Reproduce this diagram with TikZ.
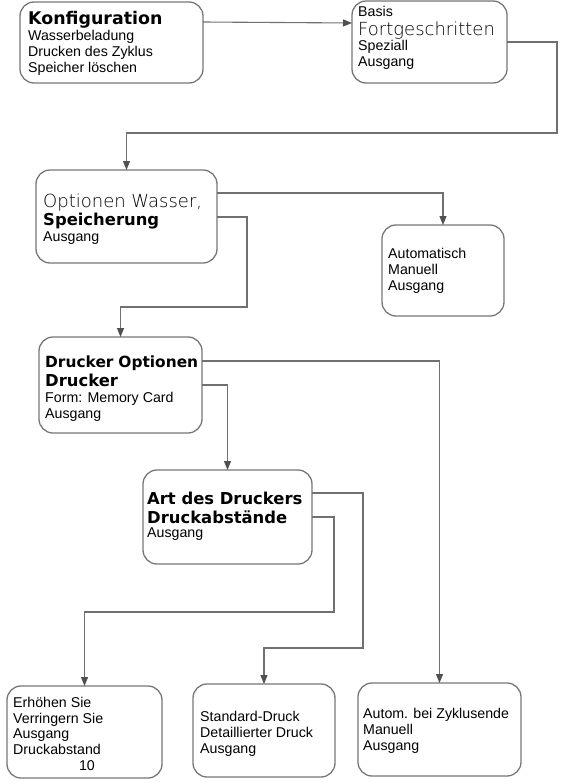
\documentclass[tikz,border=0pt]{standalone}
\usepackage{fontspec}
\setmainfont{Liberation Sans}
\newfontfamily\lightfont{DejaVu Sans ExtraLight}
\newfontfamily\titlefont{DejaVu Sans}
\usetikzlibrary{arrows.meta}
\definecolor{boxgray}{HTML}{777777}
\definecolor{linegray}{HTML}{707070}
\definecolor{tipgray}{HTML}{505050}
\tikzset{
  box/.style={draw=boxgray, line width=1.3pt, rounded corners=14pt, inner sep=0pt, outer sep=0pt},
  conn/.style={draw=linegray, line width=1.1pt},
  arr/.style={conn, -{Triangle[length=9pt,width=7pt,fill=tipgray,color=tipgray]}},
  txt/.style={anchor=base west, inner sep=0pt, font=\fontsize{14.2}{16}\selectfont},
  ttl/.style={anchor=base west, inner sep=0pt, font=\fontsize{16.4}{19}\titlefont\bfseries},
  lt/.style={anchor=base west, inner sep=0pt, font=\fontsize{18}{20}\selectfont\lightfont},
}
\begin{document}
\begin{tikzpicture}[x=1pt,y=-1pt]
\useasboundingbox (0,0) rectangle (574,782);
% boxes
\node[box, minimum width=183pt, minimum height=81pt] (b1) at (111.5,42.5) {};
\node[box, minimum width=155pt, minimum height=82pt] (b2) at (429.5,42) {};
\node[box, minimum width=181pt, minimum height=93pt] (b3) at (126.5,216.5) {};
\node[box, minimum width=122pt, minimum height=91pt] (b4) at (443,270.5) {};
\node[box, minimum width=163pt, minimum height=96pt] (b5) at (120.5,385) {};
\node[box, minimum width=169pt, minimum height=94pt] (b6) at (227.5,517) {};
\node[box, minimum width=155pt, minimum height=92pt] (b7) at (84.5,732) {};
\node[box, minimum width=142pt, minimum height=93pt] (b8) at (264,730.5) {};
\node[box, minimum width=163pt, minimum height=93pt] (b9) at (439.5,729.5) {};
% texts box 1
\node[ttl, font=\fontsize{17.4}{20}\titlefont\bfseries] (t1a) at (28,24) {Konfiguration};
\node[txt] (t1b) at (28,40.5) {Wasserbeladung};
\node[txt] (t1c) at (28,56.5) {Drucken des Zyklus};
\node[txt] (t1d) at (28,72.5) {Speicher löschen};
% box 2
\node[txt] (t2a) at (358,16) {Basis};
\node[lt] (t2b) at (358,35) {Fortgeschritten};
\node[txt] (t2c) at (358,50.5) {Speziall};
\node[txt] (t2d) at (358,66) {Ausgang};
% box 3
\node[lt] (t3a) at (43,207.5) {Optionen Wasser,};
\node[ttl] (t3b) at (43,225.5) {Speicherung};
\node[txt] (t3c) at (43,241) {Ausgang};
% box 4
\node[txt] (t4a) at (388,258) {Automatisch};
\node[txt] (t4b) at (388,274) {Manuell};
\node[txt] (t4c) at (388,290) {Ausgang};
% box 5
\node[ttl, font=\fontsize{15.4}{19}\titlefont\bfseries] (t5a) at (45,367) {\makebox[153pt][s]{Drucker Optionen}};
\node[ttl] (t5b) at (45,386) {Drucker};
\node[txt] (t5c) at (45,402) {Form: Memory Card};
\node[txt] (t5d) at (45,418) {Ausgang};
% box 6
\node[ttl] (t6a) at (147,504) {Art des Druckers};
\node[ttl] (t6b) at (147,523) {Druckabstände};
\node[txt] (t6c) at (147,537) {Ausgang};
% box 7
\node[txt] (t7a) at (13,707) {Erhöhen Sie};
\node[txt] (t7b) at (13,723) {Verringern Sie};
\node[txt] (t7c) at (13,738) {Ausgang};
\node[txt] (t7d) at (13,754) {Druckabstand};
\node[txt, anchor=base] (t7e) at (87,770) {10};
% box 8
\node[txt] (t8a) at (200,721) {Standard-Druck};
\node[txt] (t8b) at (200,737) {Detaillierter Druck};
\node[txt] (t8c) at (200,753) {Ausgang};
% box 9
\node[txt] (t9a) at (363,718) {Autom. bei Zyklusende};
\node[txt] (t9b) at (363,734) {Manuell};
\node[txt] (t9c) at (363,750) {Ausgang};
% connectors
\draw[arr] ([yshift=-20pt]b1.north east) -- ([yshift=-22pt]b2.north west);
\draw[arr] ([yshift=-41pt]b2.north east) -| (557,133) -| (b3.north);
\draw[arr] ([yshift=-23pt]b3.north east) -| (b4.north);
\draw[arr] ([yshift=-47pt]b3.north east) -| (247,307) -| (b5.north);
\draw[arr] ([yshift=-24pt]b5.north east) -| (b9.north);
\draw[arr] ([yshift=-48pt]b5.north east) -| (b6.north);
\draw[arr] ([yshift=-23pt]b6.north east) -| (363,648) -| (b8.north);
\draw[arr] ([yshift=-47pt]b6.north east) -| (334,612) -| (b7.north);
\end{tikzpicture}
\end{document}
